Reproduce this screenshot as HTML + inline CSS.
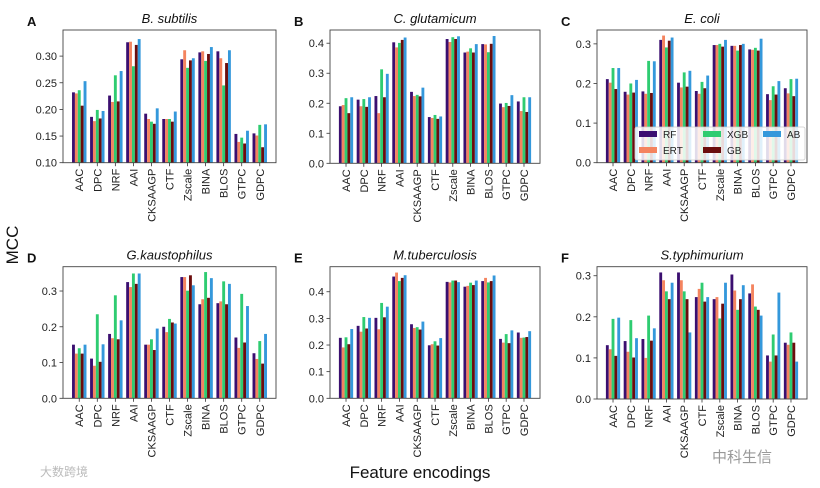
<!DOCTYPE html>
<html><head><meta charset="utf-8"><style>
body{margin:0;background:#fff;}
svg{display:block;font-family:"Liberation Sans","Noto Sans CJK SC",sans-serif;}
</style></head><body>
<svg id="chart" width="820" height="488" viewBox="0 0 820 488" xmlns="http://www.w3.org/2000/svg">
<text x="18" y="245" transform="rotate(-90 18 245)" text-anchor="middle" font-size="17" fill="#111">MCC</text>
<text x="420" y="478" text-anchor="middle" font-size="17" fill="#111">Feature encodings</text>
<text x="40" y="476" font-size="12" fill="#bbb">大数跨境</text>
<text x="712" y="462" font-size="15" fill="#999">中科生信</text>
</svg>
<script>
const categories=["AAC","DPC","NRF","AAI","CKSAAGP","CTF","Zscale","BINA","BLOS","GTPC","GDPC"];
const seriesNames=["RF","ERT","XGB","GB","AB"];
const seriesColors=["#3b0f70","#f4845f","#2ecc71","#6b0d0d","#3498db"];
const panelTitles=["B. subtilis","C. glutamicum","E. coli","G.kaustophilus","M.tuberculosis","S.typhimurium"];
const panelLetters=["A","B","C","D","E","F"];
const ticksA=[0.10,0.15,0.20,0.25,0.30];
const ticksB=[0.0,0.1,0.2,0.3,0.4];
const ticksC=[0.0,0.1,0.2,0.3];
const ticksD=[0.0,0.1,0.2,0.3];
const ticksE=[0.0,0.1,0.2,0.3,0.4];
const ticksF=[0.0,0.1,0.2,0.3];
// values per category: [RF, ERT, XGB, GB, AB]
const dataA=[[0.232,0.230,0.236,0.207,0.253],[0.186,0.178,0.199,0.183,0.197],[0.226,0.214,0.264,0.215,0.272],[0.326,0.327,0.281,0.321,0.332],[0.192,0.182,0.177,0.173,0.202],[0.182,0.182,0.182,0.177,0.196],[0.294,0.311,0.278,0.292,0.296],[0.307,0.309,0.291,0.304,0.317],[0.309,0.296,0.245,0.287,0.311],[0.154,0.139,0.147,0.136,0.160],[0.155,0.151,0.171,0.129,0.172]];
const dataB=[[0.190,0.194,0.217,0.167,0.220],[0.212,0.190,0.214,0.188,0.220],[0.224,0.167,0.313,0.220,0.298],[0.403,0.386,0.401,0.411,0.419],[0.238,0.224,0.228,0.223,0.252],[0.154,0.151,0.161,0.148,0.156],[0.414,0.404,0.420,0.414,0.423],[0.369,0.372,0.383,0.369,0.397],[0.397,0.396,0.370,0.398,0.424],[0.199,0.187,0.201,0.191,0.227],[0.206,0.174,0.220,0.171,0.220]];
const dataC=[[0.211,0.202,0.239,0.186,0.239],[0.179,0.172,0.200,0.177,0.209],[0.180,0.174,0.257,0.176,0.256],[0.310,0.321,0.291,0.308,0.316],[0.202,0.190,0.228,0.192,0.232],[0.181,0.174,0.204,0.188,0.220],[0.297,0.297,0.300,0.293,0.310],[0.295,0.295,0.283,0.297,0.300],[0.286,0.285,0.290,0.283,0.313],[0.173,0.158,0.193,0.172,0.206],[0.188,0.175,0.211,0.168,0.212]];
const dataD=[[0.150,0.125,0.140,0.125,0.150],[0.111,0.091,0.235,0.102,0.151],[0.180,0.168,0.288,0.165,0.218],[0.325,0.311,0.349,0.320,0.349],[0.150,0.150,0.165,0.135,0.195],[0.200,0.185,0.222,0.212,0.209],[0.339,0.339,0.301,0.344,0.316],[0.263,0.277,0.353,0.281,0.336],[0.266,0.271,0.327,0.263,0.320],[0.170,0.141,0.292,0.156,0.258],[0.126,0.110,0.160,0.097,0.180]];
const dataE=[[0.227,0.191,0.229,0.203,0.260],[0.272,0.250,0.305,0.262,0.302],[0.302,0.259,0.358,0.304,0.344],[0.457,0.472,0.440,0.452,0.462],[0.278,0.264,0.267,0.258,0.288],[0.199,0.203,0.214,0.198,0.226],[0.437,0.435,0.442,0.442,0.436],[0.419,0.422,0.434,0.425,0.442],[0.440,0.452,0.435,0.440,0.461],[0.223,0.209,0.241,0.207,0.255],[0.247,0.227,0.228,0.230,0.252]];
const dataF=[[0.131,0.121,0.195,0.105,0.198],[0.141,0.115,0.192,0.101,0.148],[0.146,0.100,0.203,0.142,0.172],[0.308,0.289,0.262,0.243,0.283],[0.308,0.289,0.262,0.243,0.162],[0.248,0.268,0.283,0.237,0.248],[0.243,0.248,0.196,0.232,0.283],[0.303,0.264,0.217,0.243,0.277],[0.257,0.279,0.225,0.217,0.203],[0.106,0.091,0.157,0.106,0.259],[0.137,0.132,0.162,0.137,0.091]];

const NS="http://www.w3.org/2000/svg";
const svg=document.getElementById('chart');
function mk(tag,attrs,parent){const e=document.createElementNS(NS,tag);for(const k in attrs)e.setAttribute(k,attrs[k]);(parent||svg).appendChild(e);return e;}
const panels=[
 {x0:63,x1:276,yTop:30,yBot:162.7,vmin:0.10,vmax:0.349,ticks:ticksA,dec:2,data:dataA},
 {x0:330,x1:540,yTop:30,yBot:163.3,vmin:0,vmax:0.444,ticks:ticksB,dec:1,data:dataB},
 {x0:597,x1:807,yTop:30,yBot:162.7,vmin:0,vmax:0.335,ticks:ticksC,dec:1,data:dataC},
 {x0:63,x1:276,yTop:266.7,yBot:398.3,vmin:0,vmax:0.368,ticks:ticksD,dec:1,data:dataD},
 {x0:330,x1:540,yTop:266.7,yBot:398.3,vmin:0,vmax:0.494,ticks:ticksE,dec:1,data:dataE},
 {x0:597,x1:807,yTop:266.7,yBot:399,vmin:0,vmax:0.322,ticks:ticksF,dec:1,data:dataF}
];
panels.forEach((p,pi)=>{
 const g=mk('g',{});
 
 
 const xs=i=>p.x0+(i+0.9)/11.8*(p.x1-p.x0);
 const unit=(p.x1-p.x0)/11.8;
 const ys=v=>p.yBot-(v-p.vmin)/(p.vmax-p.vmin)*(p.yBot-p.yTop);
 const bw=unit*0.8/5;
 p.data.forEach((vals,ci)=>{
  vals.forEach((v,si)=>{
   const x=xs(ci)-unit*0.4+si*bw;
   const r=mk('rect',{x:x.toFixed(2),y:ys(v).toFixed(2),width:bw.toFixed(2),height:(p.yBot-ys(v)).toFixed(2),fill:seriesColors[si]},g);
   
   
  });
  mk('line',{x1:xs(ci),x2:xs(ci),y1:p.yBot,y2:p.yBot+3.5,stroke:'#333','stroke-width':0.8},g);
  const t=mk('text',{x:0,y:0,transform:`translate(${(xs(ci)+4).toFixed(1)},${(p.yBot+6).toFixed(1)}) rotate(-90)`,'text-anchor':'end','font-size':11,fill:'#222'},g);
  t.textContent=categories[ci];
  
  
 });
 p.ticks.forEach(tv=>{
  const y=ys(tv);
  mk('line',{x1:p.x0-3.5,x2:p.x0,y1:y,y2:y,stroke:'#333','stroke-width':0.8},g);
  const t=mk('text',{x:p.x0-6,y:y+4,'text-anchor':'end','font-size':11,fill:'#222'},g);
  t.textContent=tv.toFixed(p.dec);
  
  
 });
 mk('rect',{x:p.x0,y:p.yTop,width:p.x1-p.x0,height:p.yBot-p.yTop,fill:'none',stroke:'#444','stroke-width':0.9},g);
 const ti=mk('text',{x:(p.x0+p.x1)/2,y:p.yTop-7,'text-anchor':'middle','font-size':13,'font-style':'italic',fill:'#111'},g);
 ti.textContent=panelTitles[pi];
 
 
 const le=mk('text',{x:p.x0-36,y:p.yTop-4,'font-size':13,'font-weight':'bold',fill:'#111'},g);
 le.textContent=panelLetters[pi];
 
 
});
// legend in panel C
const lg=mk('g',{});


mk('rect',{x:635,y:127,width:170,height:33,fill:'#fff','fill-opacity':0.85,stroke:'#ccc','stroke-width':0.8,rx:2},lg);
const lpos=[[639,131],[639,147],[703,131],[703,147],[763,131]];
seriesNames.forEach((n,i)=>{
 const[x,y]=lpos[i];
 const r=mk('rect',{x:x,y:y,width:18,height:6,fill:seriesColors[i]},lg);
 
 
 const t=mk('text',{x:x+24,y:y+7,'font-size':10,fill:'#222'},lg);
 t.textContent=n;
 
 
});
</script>
</body></html>
